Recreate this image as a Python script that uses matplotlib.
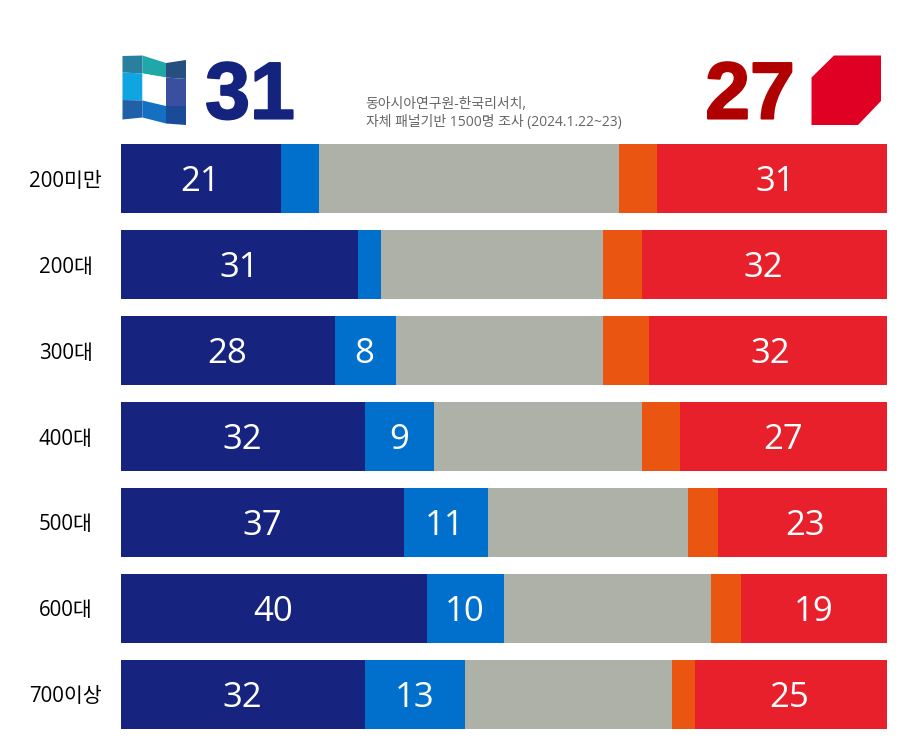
"""Seat-preference stacked bars by region group."""

import matplotlib

matplotlib.use("Agg")
import matplotlib.patheffects as pe
import matplotlib.pyplot as plt
from matplotlib.patches import Polygon

plt.rcParams["font.family"] = ["Open Sans", "Noto Sans CJK KR", "DejaVu Sans"]

categories = ["200미만", "200대", "300대", "400대", "500대", "600대", "700이상"]
navy = [20.9, 31, 27.9, 31.9, 36.9, 40, 31.9]
blue = [5, 3, 8, 9, 11, 10, 13]
gray = [39.1, 28.9, 27, 27.1, 26.1, 27, 27]
orange = [5, 5.1, 6, 5, 3.9, 4, 3]
red = [30, 32, 31.1, 27, 22.1, 19, 25.1]

navy_labels = ["21", "31", "28", "32", "37", "40", "32"]
blue_labels = ["", "", "8", "9", "11", "10", "13"]
red_labels = ["31", "32", "32", "27", "23", "19", "25"]

series = [navy, blue, gray, orange, red]
colors = ["#16237f", "#0070cc", "#adb1a7", "#eb5512", "#e8202c"]
labels = [navy_labels, blue_labels, None, None, red_labels]

W, H = 900, 750
fig = plt.figure(figsize=(9, 7.5), dpi=100, facecolor="white")

# bars occupy x 121-887, y 144-729 in pixels
ax = fig.add_axes([121 / W, 1 - 729 / H, 766 / W, 585 / H])
y = list(range(len(categories)))
left = [0] * len(categories)
for values, color, texts in zip(series, colors, labels):
    ax.barh(y, values, left=left, height=69 / 86, color=color, linewidth=0)
    if texts:
        for i, text in enumerate(texts):
            if text:
                # labels sit on the printed value, not the drawn width
                ax.text(left[i] + int(text) / 2 - 0.12, i - 0.004, text, color="white", fontsize=25,
                        ha="center", va="center_baseline")
    left = [a + b for a, b in zip(left, values)]
ax.set_xlim(0, 100)
ax.set_ylim(len(categories) - 1 + 34.5 / 86, -34.5 / 86)
ax.axis("off")
for i, cat in enumerate(categories):
    ax.text(-7.2, i, cat, fontsize=14.8, color="black", ha="center", va="center_baseline")

# header drawn in pixel coordinates
top = fig.add_axes([0, 0, 1, 1], facecolor="none")
top.set_xlim(0, W)
top.set_ylim(H, 0)
top.axis("off")

cols = [122.5, 142.5, 166, 186]
rows = [[56, 55.5, 63, 60], [72.5, 73.5, 77.5, 79], [100, 100.5, 106, 106], [119.5, 117.5, 123.5, 125]]
flag_colors = [["#2a7f9e", "#20a8a8", "#264f80"],
               ["#0ea5e0", "#ffffff", "#3a4fa0"],
               ["#2060a8", "#1470c0", "#1a4a98"]]
for r in range(3):
    for c in range(3):
        top.add_patch(Polygon([(cols[c], rows[r][c]), (cols[c + 1], rows[r][c + 1]),
                               (cols[c + 1], rows[r + 1][c + 1]), (cols[c], rows[r + 1][c])],
                              facecolor=flag_colors[r][c], edgecolor="none"))
top.add_patch(Polygon([(811.5, 77.5), (834, 55.5), (881, 55.5), (881, 101), (858, 125), (811.5, 125)],
                      facecolor="#e00024", edgecolor="none"))

for text, x, color in [("31", 250, "#14237e"), ("27", 750, "#b00000")]:
    top.text(x, 89, text, fontsize=58, fontweight="bold", color=color, ha="center",
             va="center_baseline", family=["Liberation Sans"],
             path_effects=[pe.withStroke(linewidth=1.5, foreground=color)])
top.text(365.5, 113.5, "동아시아연구원-한국리서치,\n자체 패널기반 1500명 조사 (2024.1.22~23)", fontsize=10,
         color="#666666", ha="left", va="center", linespacing=1.27)

fig.savefig("out.png", dpi=100)
